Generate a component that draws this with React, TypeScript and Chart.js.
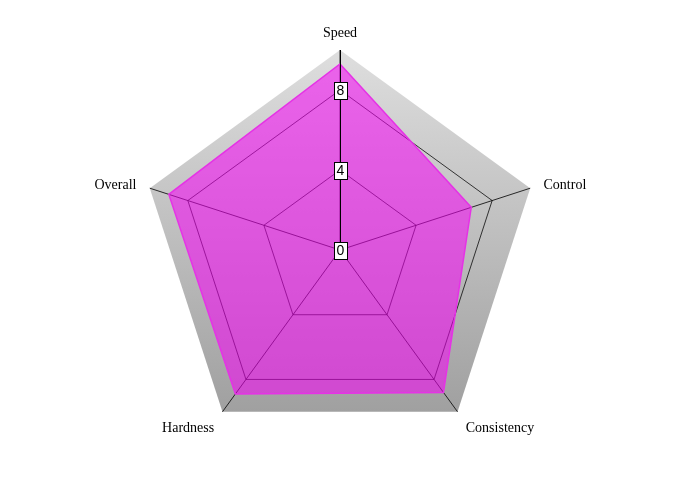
import { useEffect, useRef } from "react";
import { Chart, registerables } from "chart.js";

Chart.register(...registerables);

const CATEGORIES = ["Speed", "Control", "Consistency", "Hardness", "Overall"];
const SERIES_VALUES = [9.3, 6.9, 8.8, 8.9, 9.0];
const TICK_VALUES = [0, 4, 8];
const SCALE_MIN = 0;
const SCALE_MAX = 10;

const overlayPlugin = {
  id: "radarOverlay",
  beforeDraw(chart: any) {
    const scale = chart.scales.r;
    if (!scale) return;
    const ctx = chart.ctx;
    const n = CATEGORIES.length;
    const r = scale.drawingArea;
    ctx.save();
    const grad = ctx.createLinearGradient(0, scale.yCenter - r, 0, scale.yCenter + r * 0.81);
    grad.addColorStop(0, "#dedede");
    grad.addColorStop(1, "#a0a0a0");
    ctx.beginPath();
    for (let i = 0; i < n; i++) {
      const p = scale.getPointPosition(i, r);
      if (i === 0) ctx.moveTo(p.x, p.y);
      else ctx.lineTo(p.x, p.y);
    }
    ctx.closePath();
    ctx.fillStyle = grad;
    ctx.fill();
    ctx.restore();
  },
  afterDatasetsDraw(chart: any) {
    const scale = chart.scales.r;
    if (!scale) return;
    const ctx = chart.ctx;
    const n = CATEGORIES.length;
    const r = scale.drawingArea;
    ctx.save();
    // value axis line on top (first axis)
    ctx.strokeStyle = "#000000";
    ctx.lineWidth = 1;
    const top = scale.getPointPosition(0, r);
    ctx.beginPath();
    ctx.moveTo(Math.round(scale.xCenter) + 0.5, scale.yCenter);
    ctx.lineTo(Math.round(top.x) + 0.5, top.y);
    ctx.stroke();
    // tick labels in boxes
    ctx.font = '14px "Liberation Sans", Arial, sans-serif';
    ctx.textAlign = "center";
    ctx.textBaseline = "middle";
    for (const v of TICK_VALUES) {
      const d = scale.getDistanceFromCenterForValue(v);
      const x = scale.xCenter;
      const y = scale.yCenter - d;
      const label = String(v);
      const tw = ctx.measureText(label).width;
      const w = Math.round(tw + 5);
      const h = 17;
      const bx = Math.round(x - w / 2) + 0.5;
      const by = Math.round(y - h / 2) + 0.5;
      ctx.fillStyle = "#ffffff";
      ctx.fillRect(bx, by, w, h);
      ctx.strokeStyle = "#000000";
      ctx.strokeRect(bx, by, w, h);
      ctx.fillStyle = "#000000";
      ctx.fillText(label, x + 0.5, y + 1);
    }
    // point labels
    ctx.font = '14px "Liberation Serif", "Times New Roman", serif';
    ctx.fillStyle = "#000000";
    for (let i = 0; i < n; i++) {
      const p = scale.getPointPosition(i, r + 14);
      const dx = p.x - scale.xCenter;
      const dy = p.y - scale.yCenter;
      ctx.textAlign = Math.abs(dx) < 1 ? "center" : dx > 0 ? "left" : "right";
      let y = p.y;
      if (Math.abs(dx) < 1 && dy < 0) {
        ctx.textBaseline = "alphabetic";
        y = p.y + 1;
      } else if (dy > r * 0.5) {
        ctx.textBaseline = "alphabetic";
        y = p.y + 9;
      } else {
        ctx.textBaseline = "middle";
        y = p.y + 1;
      }
      ctx.fillText(CATEGORIES[i], p.x, y);
    }
    ctx.restore();
  },
};

export default function App() {
  const canvasRef = useRef<HTMLCanvasElement | null>(null);

  useEffect(() => {
    if (!canvasRef.current) return;
    const chart = new Chart(canvasRef.current, {
      type: "radar",
      data: {
        labels: CATEGORIES,
        datasets: [
          {
            label: "Rating",
            data: SERIES_VALUES,
            fill: true,
            backgroundColor: "rgba(245, 0, 245, 0.55)",
            borderColor: "#e632e6",
            borderWidth: 1.5,
            pointRadius: 0,
            pointHoverRadius: 0,
          },
        ],
      },
      options: {
        responsive: false,
        animation: false,
        layout: { padding: { top: 50, bottom: 50, left: 0, right: 0 } },
        plugins: {
          legend: { display: false },
          tooltip: { enabled: false },
        },
        scales: {
          r: {
            min: SCALE_MIN,
            max: SCALE_MAX,
            afterBuildTicks: (scale: any) => {
              scale.ticks = TICK_VALUES.map((v) => ({ value: v }));
            },
            ticks: { display: false, stepSize: 4 },
            pointLabels: { display: false },
            angleLines: { display: true, color: "rgba(0,0,0,0.8)", lineWidth: 1 },
            grid: { color: "rgba(0,0,0,0.75)", lineWidth: 1 },
          },
        },
      },
      plugins: [overlayPlugin],
    });
    return () => chart.destroy();
  }, []);

  return (
    <div style={{ position: "absolute", left: 0, top: 0, width: 680, height: 500 }}>
      <canvas ref={canvasRef} width={680} height={500} />
    </div>
  );
}
